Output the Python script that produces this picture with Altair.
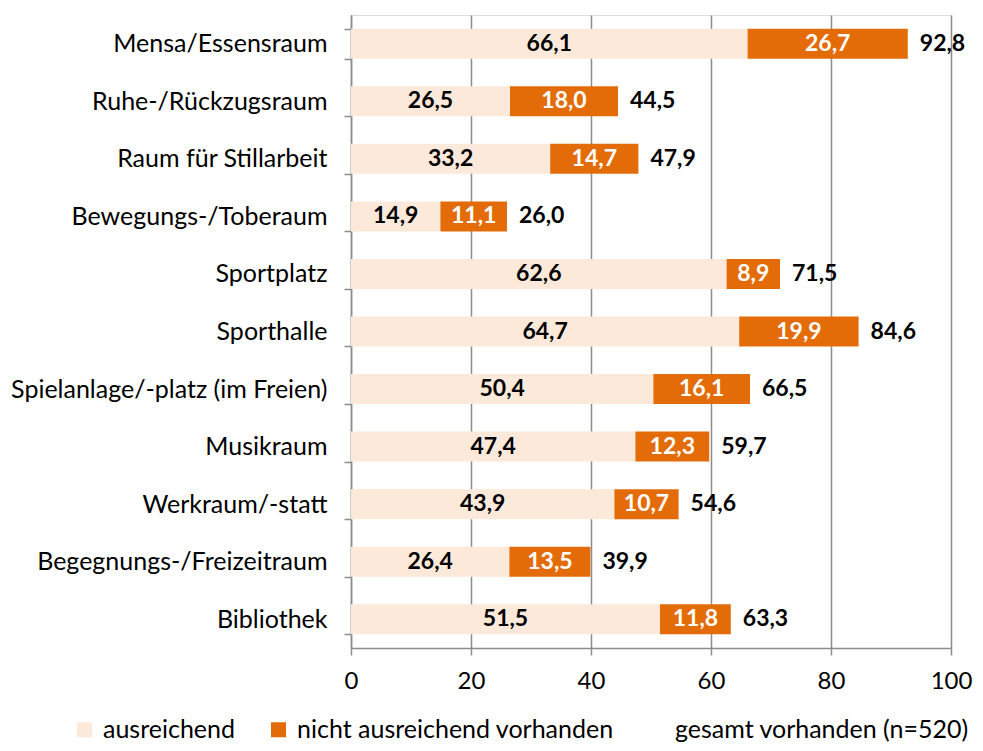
import altair as alt
import pandas as pd

categories = ["Mensa/Essensraum", "Ruhe-/Rückzugsraum", "Raum für Stillarbeit",
              "Bewegungs-/Toberaum", "Sportplatz", "Sporthalle",
              "Spielanlage/-platz (im Freien)", "Musikraum", "Werkraum/-statt",
              "Begegnungs-/Freizeitraum", "Bibliothek"]
ausreichend = [66.1, 26.5, 33.2, 14.9, 62.6, 64.7, 50.4, 47.4, 43.9, 26.4, 51.5]
nicht_ausreichend = [26.7, 18.0, 14.7, 11.1, 8.9, 19.9, 16.1, 12.3, 10.7, 13.5, 11.8]
gesamt = [92.8, 44.5, 47.9, 26.0, 71.5, 84.6, 66.5, 59.7, 54.6, 39.9, 63.3]

series = ["ausreichend", "nicht ausreichend vorhanden", "gesamt vorhanden (n=520)"]
colors = ["#FDE9D9", "#E36C09", "#FFFFFF"]

def fmt(v):
    return f"{v:.1f}".replace(".", ",")

rows = []
for c, a, n in zip(categories, ausreichend, nicht_ausreichend):
    rows.append({"cat": c, "series": series[0], "start": 0, "end": a,
                 "mid": a / 2, "label": fmt(a), "tc": "black"})
    rows.append({"cat": c, "series": series[1], "start": a, "end": a + n,
                 "mid": a + n / 2, "label": fmt(n), "tc": "white"})
bars = pd.DataFrame(rows)
tot = pd.DataFrame({"cat": categories, "total": gesamt,
                    "label": [fmt(g) for g in gesamt]})

FONT = "Lato"
GRID = "#8c8c8c"
yscale = alt.Scale(domain=categories, paddingInner=0.48, paddingOuter=0.24)
xscale = alt.Scale(domain=[0, 100])

base_y = alt.Y("cat:N", sort=categories, scale=yscale, title=None,
               axis=alt.Axis(tickBand="extent", domainColor=GRID, tickColor=GRID,
                             domainWidth=1.5, tickWidth=1.5, tickSize=7,
                             labelFont=FONT, labelFontSize=25, labelColor="black",
                             labelPadding=17, labelLimit=400))

bar = alt.Chart(bars).mark_bar(size=30).encode(
    x=alt.X("start:Q", scale=xscale, title=None,
            axis=alt.Axis(values=[0, 20, 40, 60, 80, 100], grid=True,
                          gridColor=GRID, gridWidth=1.5,
                          domainColor=GRID, tickColor=GRID,
                          domainWidth=1.5, tickWidth=1.5, tickSize=7,
                          labelFont=FONT, labelFontSize=24, labelColor="black",
                          labelPadding=14, labelFlush=False, labelOverlap=False)),
    x2="end:Q",
    y=base_y,
    color=alt.Color("series:N", scale=alt.Scale(domain=series, range=colors),
                    legend=alt.Legend(title=None, orient="none", direction="horizontal",
                                      legendX=-279, legendY=702,
                                      symbolType="square", symbolSize=225,
                                      symbolStrokeWidth=0, symbolOpacity=1,
                                      labelFont=FONT, labelFontSize=25,
                                      labelColor="black", labelOffset=6,
                                      columnPadding=30, labelLimit=400)),
)

seg_text = alt.Chart(bars).mark_text(font=FONT, fontSize=23, fontWeight="bold",
                                     baseline="middle").encode(
    x=alt.X("mid:Q", scale=xscale),
    y=alt.Y("cat:N", sort=categories, scale=yscale),
    text="label:N",
    color=alt.Color("tc:N", scale=None),
)

tot_text = alt.Chart(tot).mark_text(font=FONT, fontSize=23, fontWeight="bold",
                                    align="left", baseline="middle", dx=12,
                                    color="black").encode(
    x=alt.X("total:Q", scale=xscale),
    y=alt.Y("cat:N", sort=categories, scale=yscale),
    text="label:N",
)

chart = alt.layer(bar, seg_text, tot_text).properties(
    width=600, height=633,
    autosize=alt.AutoSizeParams(type="none"),
    padding={"left": 343, "top": 7, "right": 24, "bottom": 95},
).configure_view(stroke=None).configure(background="white")

chart.save("out.html", embed_options={"renderer": "svg", "actions": False})
